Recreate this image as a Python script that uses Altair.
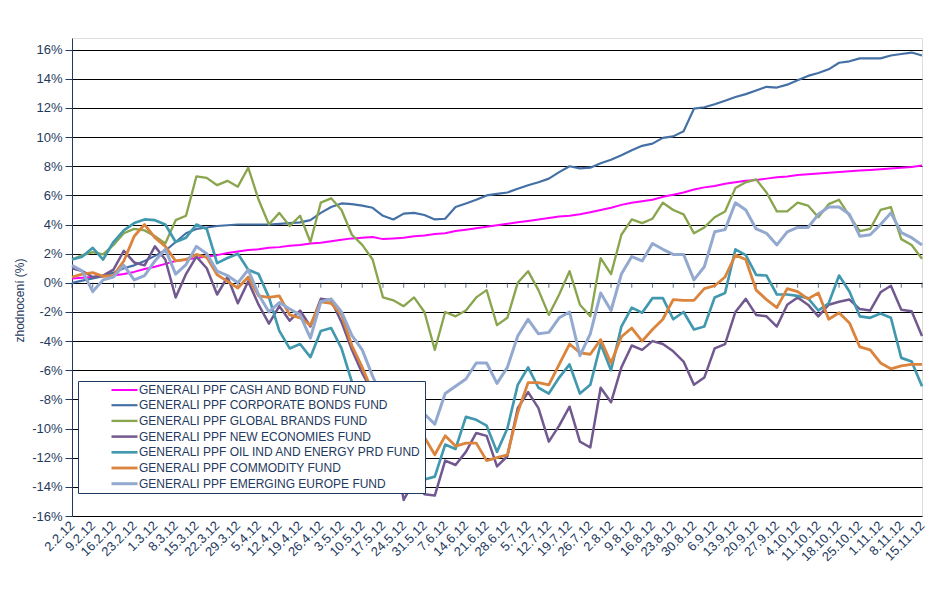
import json
import altair as alt
import pandas as pd

week_labels = ["2.2.12", "9.2.12", "16.2.12", "23.2.12", "1.3.12", "8.3.12", "15.3.12",
               "22.3.12", "29.3.12", "5.4.12", "12.4.12", "19.4.12", "26.4.12", "3.5.12",
               "10.5.12", "17.5.12", "24.5.12", "31.5.12", "7.6.12", "14.6.12", "21.6.12",
               "28.6.12", "5.7.12", "12.7.12", "19.7.12", "26.7.12", "2.8.12", "9.8.12",
               "16.8.12", "23.8.12", "30.8.12", "6.9.12", "13.9.12", "20.9.12", "27.9.12",
               "4.10.12", "11.10.12", "18.10.12", "25.10.12", "1.11.12", "8.11.12", "15.11.12"]

series = ["GENERALI PPF CASH AND BOND FUND",
          "GENERALI PPF CORPORATE BONDS FUND",
          "GENERALI PPF GLOBAL BRANDS FUND",
          "GENERALI PPF NEW ECONOMIES FUND",
          "GENERALI PPF OIL IND AND ENERGY PRD FUND",
          "GENERALI PPF COMMODITY FUND",
          "GENERALI PPF EMERGING EUROPE FUND"]

colors = ["#FF00FF", "#4470A6", "#89A54E", "#71588F", "#4198AF", "#DB843D", "#93A9CF"]
widths = [2, 3, 3, 3, 3, 3, 3]

# time axis: weeks since 2.2.12, sampled every half week
weeks_t = [i * 0.5 for i in range(83)]

cash = [0.3, 0.35, 0.4, 0.45, 0.5, 0.6, 0.75, 0.95, 1.1, 1.3,
        1.5, 1.6, 1.7, 1.8, 1.9, 2.05, 2.15, 2.25, 2.3, 2.4,
        2.45, 2.55, 2.6, 2.7, 2.75, 2.85, 2.95, 3.05, 3.1, 3.15,
        3.0, 3.05, 3.1, 3.2, 3.25, 3.35, 3.4, 3.55, 3.65, 3.75,
        3.85, 3.95, 4.05, 4.15, 4.25, 4.35, 4.45, 4.55, 4.6, 4.7,
        4.85, 5.0, 5.15, 5.35, 5.5, 5.6, 5.7, 5.9, 6.05, 6.2,
        6.4, 6.55, 6.65, 6.8, 6.9, 7.0, 7.05, 7.15, 7.25, 7.3,
        7.4, 7.45, 7.5, 7.55, 7.6, 7.65, 7.7, 7.75, 7.8, 7.85,
        7.9, 7.95, 8.05]

corporate = [0.0, 0.15, 0.3, 0.45, 0.7, 1.0, 1.2, 1.5, 1.85, 2.2,
             2.8, 3.4, 3.7, 3.8, 3.9, 3.95, 4.0, 4.0, 4.0, 4.0,
             4.05, 4.1, 4.15, 4.3, 4.8, 5.2, 5.45, 5.4, 5.3, 5.15,
             4.6, 4.35, 4.75, 4.8, 4.65, 4.35, 4.4, 5.2, 5.45, 5.7,
             6.0, 6.1, 6.2, 6.45, 6.7, 6.9, 7.15, 7.6, 8.0, 7.85,
             7.9, 8.2, 8.45, 8.75, 9.1, 9.4, 9.55, 9.95, 10.05, 10.4,
             11.95, 12.05, 12.25, 12.5, 12.75, 12.95, 13.2, 13.45, 13.4, 13.6,
             13.9, 14.2, 14.4, 14.65, 15.1, 15.2, 15.4, 15.4, 15.4, 15.6,
             15.7, 15.8, 15.6]

global_brands = [1.6, 1.9, 2.1, 1.95, 2.6, 3.4, 3.7, 3.6, 3.2, 2.7,
                 4.3, 4.6, 7.3, 7.2, 6.7, 7.0, 6.6, 7.9, 5.7, 4.0,
                 4.8, 3.9, 4.6, 2.8, 5.5, 5.8, 5.0, 3.3, 2.6, 1.6,
                 -1.0, -1.2, -1.6, -1.0, -2.0, -4.6, -2.0, -2.3, -1.9, -1.0,
                 -0.5, -2.9, -2.4, 0.0, 0.8, -0.5, -2.2, -0.8, 0.8, -1.5,
                 -2.3, 1.7, 0.6, 3.3, 4.35, 4.1, 4.4, 5.5, 5.0, 4.7,
                 3.4, 3.8, 4.5, 4.9, 6.5, 6.9, 7.1, 6.2, 4.9, 4.9,
                 5.5, 5.3, 4.5, 5.4, 5.7, 4.6, 3.55, 3.7, 5.0, 5.2,
                 3.0, 2.6, 1.65]

new_economies = [1.0, 0.8, 0.4, 0.5, 0.9, 2.2, 1.4, 1.2, 2.5, 1.6,
                 -1.0, 0.6, 1.8, 1.0, -0.8, 0.4, -1.4, 0.1, -1.5, -2.8,
                 -1.6, -2.6, -1.9, -3.0, -1.1, -1.2, -2.7, -4.6, -6.2, -7.5,
                 -8.5, -11.0, -14.9, -13.6, -14.5, -14.6, -12.2, -12.5, -11.6, -10.3,
                 -10.5, -12.6, -11.9, -8.6, -7.5, -8.6, -10.9, -9.8, -8.5, -10.9,
                 -11.3, -7.2, -8.2, -5.8, -4.3, -4.6, -4.0, -4.2, -4.7, -5.4,
                 -7.0, -6.5, -4.5, -4.2, -2.0, -1.1, -2.2, -2.3, -3.0, -1.5,
                 -1.0, -1.5, -2.3, -1.5, -1.3, -1.15, -1.8, -1.9, -0.65, -0.2,
                 -1.85, -1.95, -3.65]

oil_energy = [1.6, 1.8, 2.4, 1.6, 2.8, 3.6, 4.1, 4.35, 4.3, 4.0,
              2.8, 3.1, 4.0, 3.7, 1.35, 1.7, 2.0, 0.9, 0.6, -1.0,
              -3.3, -4.5, -4.2, -5.1, -3.3, -3.1, -4.5, -6.8, -7.5, -9.0,
              -11.0, -12.5, -13.2, -13.3, -13.5, -13.3, -11.1, -11.4, -9.2, -9.4,
              -9.8, -11.6, -10.0, -7.0, -5.8, -7.2, -7.6, -6.5, -5.6, -7.6,
              -7.0, -4.2, -6.0, -3.0, -1.7, -2.05, -1.05, -1.05, -2.5, -2.0,
              -3.2, -3.0, -1.0, -0.7, 2.3, 1.9, 0.55, 0.5, -0.8, -0.8,
              -0.9, -1.05, -1.9, -1.4, 0.5, -0.6, -2.3, -2.4, -2.1, -2.4,
              -5.15, -5.4, -7.1]

commodity = [0.4, 0.6, 0.7, 0.45, 0.5, 1.5, 3.2, 4.0, 3.1, 2.5,
             1.5, 1.6, 1.95, 1.75, 0.55, 0.1, -0.35, 0.4, -0.9, -1.0,
             -0.9, -2.2, -2.4, -2.9, -1.3, -1.4, -2.2, -4.3, -5.8, -7.5,
             -9.0, -10.5, -12.0, -11.0, -10.6, -11.8, -10.5, -11.2, -11.0, -11.0,
             -12.2, -12.0, -11.8, -8.9, -6.85, -6.85, -7.0, -5.6, -4.2, -4.8,
             -4.9, -3.9, -5.5, -3.7, -3.1, -4.0, -3.2, -2.5, -1.15, -1.2,
             -1.2, -0.4, -0.2, 0.4, 1.9, 1.6, -0.5, -1.15, -1.7, -0.4,
             -0.6, -1.1, -0.7, -2.5, -2.05, -2.75, -4.4, -4.6, -5.5, -5.9,
             -5.7, -5.6, -5.6]

emerging_europe = [1.2, 0.8, -0.6, 0.2, 0.4, 1.2, 0.2, 0.5, 1.5, 2.3,
                   0.6, 1.25, 2.5, 2.0, 0.8, 0.5, 0.0, 0.9, -0.8, -2.0,
                   -1.35, -1.8, -2.2, -3.8, -1.3, -1.1, -2.0, -3.6, -4.6, -6.4,
                   -8.0, -9.5, -9.6, -8.0, -9.0, -9.7, -7.6, -7.1, -6.6, -5.5,
                   -5.5, -6.9, -5.8, -3.65, -2.5, -3.5, -3.4, -2.4, -2.0, -5.0,
                   -3.5, -0.7, -1.9, 0.6, 1.8, 1.5, 2.7, 2.3, 1.95, 1.95,
                   0.2, 1.1, 3.5, 3.65, 5.5, 5.0, 3.7, 3.4, 2.6, 3.5,
                   3.8, 3.8, 4.7, 5.2, 5.2, 4.7, 3.2, 3.3, 4.0, 4.8,
                   3.45, 3.1, 2.6]

values = [cash, corporate, global_brands, new_economies, oil_energy, commodity, emerging_europe]

rows = []
for name, vals in zip(series, values):
    for t, v in zip(weeks_t, vals):
        rows.append({"t": t, "v": v, "series": name})
df = pd.DataFrame(rows)

weeks = list(range(len(week_labels)))
ticks_df = pd.DataFrame({"w": weeks})

navy = "#1F3A60"
font = "Liberation Sans"

x_axis = alt.Axis(values=weeks, labelExpr=json.dumps(week_labels) + "[datum.value]",
                  labelAngle=-45, labelAlign="right", labelBaseline="middle",
                  ticks=False, tickSize=0, domain=False, grid=False, labelPadding=7,
                  labelFontSize=13, labelColor=navy, labelFont=font, title=None,
                  labelOverlap=False, labelFlush=False)
y_axis = alt.Axis(values=list(range(-16, 17, 2)), labelExpr="datum.value + '%'",
                  grid=True, gridColor="#000000", gridWidth=1, gridOpacity=1,
                  domainColor=navy, domainWidth=1, tickColor=navy, tickSize=7,
                  labelFontSize=13, labelColor=navy, labelFont=font, labelPadding=3,
                  title="zhodnocení (%)", titleFontSize=12, titleFontWeight="normal",
                  titleColor=navy, titleFont=font, titleX=-46, titleY=262,
                  titleAlign="center", titleAngle=-90)

x_scale = alt.Scale(domain=[0, 41], nice=False, zero=False)
y_scale = alt.Scale(domain=[-16, 16.8], nice=False, zero=False)

pad = "\u00a0" * 9
legend = alt.Legend(orient="none", legendX=6, legendY=343, title=None,
                    fillColor="white", strokeColor=navy, padding=3,
                    symbolType="M-2.6,0L2.6,0", symbolSize=100, symbolStrokeWidth=3,
                    symbolOffset=37, labelOffset=8,
                    labelFont=font, labelFontSize=12, labelColor=navy,
                    rowPadding=2.7, labelLimit=450,
                    labelExpr="datum.label + '" + pad + "'")

ticks = alt.Chart(ticks_df).mark_tick(orient="vertical", size=5, thickness=1,
                                      yOffset=2.5, color=navy).encode(
    x=alt.X("w:Q", scale=x_scale, axis=x_axis),
    y=alt.datum(0, scale=y_scale, axis=y_axis),
)

lines = alt.Chart(df).mark_line(strokeJoin="round").encode(
    x=alt.X("t:Q", scale=x_scale, axis=x_axis),
    y=alt.Y("v:Q", scale=y_scale, axis=y_axis),
    color=alt.Color("series:N", sort=series,
                    scale=alt.Scale(domain=series, range=colors), legend=legend),
    strokeWidth=alt.StrokeWidth("series:N", scale=alt.Scale(domain=series, range=widths),
                                legend=None),
)

chart = alt.layer(ticks, lines).properties(
    width=850, height=478,
    autosize=alt.AutoSizeParams(type="none"),
    padding={"left": 64, "top": 30, "right": 20, "bottom": 66},
).configure_view(stroke=None).configure(font=font)

chart.save("out.html", embed_options={"renderer": "svg", "actions": False})
